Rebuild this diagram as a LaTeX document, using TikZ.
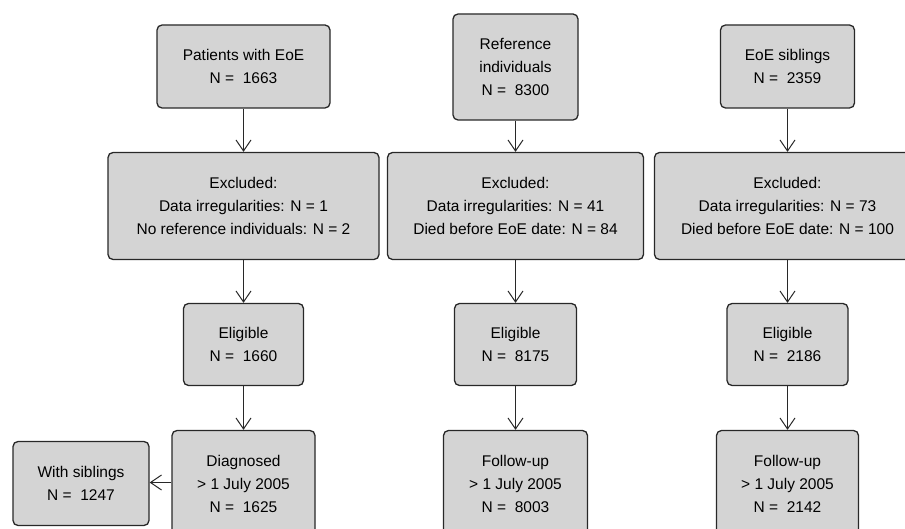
\documentclass[tikz,border=0pt]{standalone}
\usepackage{fontspec}
\setmainfont{Liberation Sans}
\usetikzlibrary{arrows.meta}
\definecolor{boxgray}{RGB}{212,212,212}
\definecolor{edge}{RGB}{40,40,40}
\begin{document}
\begin{tikzpicture}[x=1pt,y=-1pt,
  box/.style={draw=edge, line width=1.3pt, rounded corners=5pt, fill=boxgray,
    align=center, inner sep=0pt, font=\fontsize{15.5}{23}\selectfont, text=black, text depth=0pt},
  conn/.style={draw=edge, line width=1.1pt, -{Straight Barb[length=11pt,width=15pt,line width=1pt]}}]
\useasboundingbox (0,0) rectangle (905,529);
\fill[white] (0,0) rectangle (905,529);
\clip (0,0) rectangle (905,529);
% top row
\node[box, minimum width=173pt, minimum height=83pt] (p1) at (243.5,66.5) {Patients with EoE\\N = \ 1663};
\node[box, minimum width=125pt, minimum height=106pt] (r1) at (515.5,67) {Reference\\individuals\\N = \ 8300};
\node[box, minimum width=134pt, minimum height=83pt] (s1) at (787.5,66.5) {EoE siblings\\N = \ 2359};
% excluded row
\node[box, minimum width=271pt, minimum height=107pt] (x1) at (243.5,206) {Excluded:\\Data irregularities: N = 1\\No reference individuals: N = 2};
\node[box, minimum width=256pt, minimum height=107pt] (x2) at (515.5,206) {Excluded:\\Data irregularities: N = 41\\Died before EoE date: N = 84};
\node[box, minimum width=266pt, minimum height=107pt] (x3) at (787.5,206) {Excluded:\\Data irregularities: N = 73\\Died before EoE date: N = 100};
% eligible row
\node[box, minimum width=120pt, minimum height=82pt] (e1) at (243.5,344.5) {Eligible\\N = \ 1660};
\node[box, minimum width=122pt, minimum height=82pt] (e2) at (515.5,344.5) {Eligible\\N = \ 8175};
\node[box, minimum width=121pt, minimum height=82pt] (e3) at (787.5,344.5) {Eligible\\N = \ 2186};
% bottom row
\node[box, minimum width=143pt, minimum height=106pt] (d1) at (243.5,483.5) {Diagnosed\\> 1 July 2005\\N = \ 1625};
\node[box, minimum width=144pt, minimum height=106pt] (f2) at (515.5,483.5) {Follow-up\\> 1 July 2005\\N = \ 8003};
\node[box, minimum width=142pt, minimum height=106pt] (f3) at (787.5,483.5) {Follow-up\\> 1 July 2005\\N = \ 2142};
\node[box, minimum width=136pt, minimum height=84pt] (w1) at (81,483.5) {With siblings\\N = \ 1247};
% connectors
\draw[conn] (p1.south) -- (p1.south |- x1.north);
\draw[conn] (r1.south) -- (r1.south |- x2.north);
\draw[conn] (s1.south) -- (s1.south |- x3.north);
\draw[conn] (x1.south) -- (x1.south |- e1.north);
\draw[conn] (x2.south) -- (x2.south |- e2.north);
\draw[conn] (x3.south) -- (x3.south |- e3.north);
\draw[conn] (e1.south) -- (e1.south |- d1.north);
\draw[conn] (e2.south) -- (e2.south |- f2.north);
\draw[conn] (e3.south) -- (e3.south |- f3.north);
\draw[conn] (d1.west |- 0,482.5) -- (w1.east |- 0,482.5);
\end{tikzpicture}
\end{document}
